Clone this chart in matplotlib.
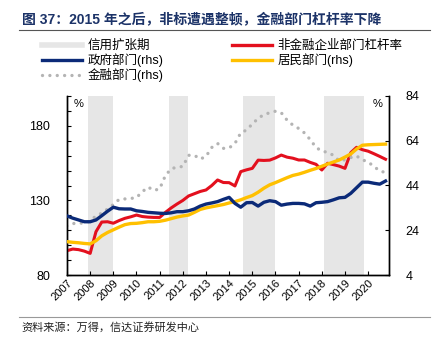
import matplotlib
matplotlib.use("Agg")
import matplotlib.pyplot as plt
from matplotlib.lines import Line2D
import numpy as np

plt.rcParams['font.family'] = ['Liberation Sans', 'Noto Sans CJK SC', 'DejaVu Sans']

years = [str(y) for y in range(2007, 2021)]
quarters = 2007.0 + 0.25 * np.arange(56)

corp = [96.3, 97.4, 97.0, 96.0, 94.5, 109.0, 115.5, 115.7, 114.7, 116.5, 118.0, 119.0,
        120.2, 119.2, 118.8, 118.6, 118.6, 122.0, 125.0, 127.6, 130.0, 133.0, 134.5, 136.0,
        137.0, 140.0, 143.7, 142.0, 141.9, 139.7, 149.3, 150.5, 151.5, 157.0, 156.8, 157.0,
        158.5, 160.4, 159.0, 158.3, 157.1, 157.1, 155.5, 154.2, 150.4, 154.9, 154.0, 153.0,
        151.5, 162.0, 165.6, 164.0, 163.0, 161.3, 159.5, 157.6]

gov = [30.4, 29.4, 28.6, 27.8, 27.8, 28.6, 30.5, 32.5, 34.3, 33.6, 33.5, 33.5,
       32.7, 32.4, 32.0, 31.8, 31.6, 31.5, 31.8, 32.3, 32.3, 32.7, 33.5, 34.8,
       35.7, 36.2, 36.8, 37.8, 38.7, 36.0, 34.3, 36.3, 36.4, 34.8, 36.5, 37.2,
       36.8, 35.2, 35.7, 36.0, 36.0, 35.8, 34.8, 36.3, 36.5, 36.8, 37.6, 38.5,
       38.7, 40.5, 43.0, 45.5, 45.5, 45.0, 44.6, 46.0]

household = [18.9, 18.6, 18.4, 18.1, 17.9, 19.3, 21.5, 23.0, 24.2, 25.4, 26.5, 27.0,
             27.1, 27.4, 27.8, 27.8, 28.0, 28.5, 29.2, 29.9, 30.4, 30.8, 32.0, 33.3,
             34.0, 34.5, 35.0, 35.5, 36.2, 36.8, 37.6, 38.6, 39.5, 41.0, 42.8, 44.3,
             45.3, 46.4, 47.5, 48.5, 49.1, 49.9, 50.8, 51.6, 52.6, 53.6, 54.5, 55.4,
             56.7, 58.1, 60.3, 62.0, 62.2, 62.3, 62.4, 62.5]

financial = [25.9, 27.0, 27.1, 27.3, 28.0, 30.5, 31.6, 33.5, 35.5, 37.8, 38.0, 38.2,
             38.6, 41.2, 43.3, 41.8, 42.5, 48.5, 51.5, 52.2, 52.5, 57.5, 57.5, 55.8,
             57.0, 61.0, 62.8, 60.6, 60.8, 62.8, 67.5, 68.8, 71.5, 74.0, 75.7, 76.5,
             77.2, 76.5, 73.2, 71.0, 69.5, 67.5, 64.5, 61.0, 59.4, 58.8, 57.5, 55.0,
             55.5, 56.5, 57.2, 55.5, 54.5, 52.5, 50.5, 49.8]

expansion_periods = [(2007.92, 2008.97), (2011.42, 2012.24), (2014.6, 2016.0), (2018.1, 2019.83)]

labels_left = ['信用扩张期', '政府部门(rhs)', '金融部门(rhs)']
labels_right = ['非金融企业部门杠杆率', '居民部门(rhs)']

RED = '#e3101e'
BLUE = '#0b2a78'
YELLOW = '#ffc000'
GRAY = '#b4b4b4'
SHADE = '#e6e6e6'
DOTS = (0, (0.01, 2.2))

fig = plt.figure(figsize=(4.35, 3.5), dpi=100)
ax = fig.add_axes([67/435, 1-275/350, (389-67)/435, (275-96)/350])
ax2 = ax.twinx()

for a, b in expansion_periods:
    ax.axvspan(a, b, color=SHADE, lw=0, zorder=0)

ax.plot(quarters, corp, color=RED, lw=2.2, zorder=3, solid_joinstyle='round')
ax2.plot(quarters, financial, color=GRAY, lw=2.4, linestyle=DOTS,
         dash_capstyle='round', zorder=2)
ax2.plot(quarters, household, color=YELLOW, lw=2.4, zorder=3, solid_joinstyle='round')
ax2.plot(quarters, gov, color=BLUE, lw=2.4, zorder=4, solid_joinstyle='round')

ax.set_xlim(2007.0, 2020.9)
ax.set_ylim(80, 200)
ax2.set_ylim(4, 84)
ax.set_yticks(np.arange(80, 201, 10))
ax.set_yticklabels([str(v) if v in (80, 130, 180) else '' for v in range(80, 201, 10)])
ax2.set_yticks([4, 24, 44, 64, 84])
ax2.set_yticklabels(['4', '24', '44', '64', '84'])
ax.set_xticks(np.arange(2007, 2021))
ax.set_xticklabels(years, rotation=45, ha='right', va='top', rotation_mode='anchor')

for a in (ax, ax2):
    a.spines['top'].set_visible(False)
    for s in a.spines.values():
        s.set_linewidth(1.0)
        s.set_color('black')
    a.tick_params(direction='in', length=3, width=0.8, labelsize=9, colors='black')
ax.tick_params(axis='x', labelsize=8, pad=2)
ax.tick_params(axis='y', pad=12)
ax2.tick_params(axis='y', pad=12)
ax.set_zorder(ax2.get_zorder())
ax.patch.set_visible(False)

ax.text(0.02, 0.985, '%', transform=ax.transAxes, fontsize=8, va='top', ha='left')
ax.text(0.98, 0.985, '%', transform=ax.transAxes, fontsize=8, va='top', ha='right')

handles_left = [
    Line2D([], [], color=SHADE, lw=4),
    Line2D([], [], color=BLUE, lw=2.4),
    Line2D([], [], color=GRAY, lw=2.4, linestyle=DOTS, dash_capstyle='round'),
]
handles_right = [
    Line2D([], [], color=RED, lw=2.4),
    Line2D([], [], color=YELLOW, lw=2.4),
]
leg_kw = dict(loc='upper left', frameon=False, fontsize=9, handlelength=3.2,
              handletextpad=0.45, labelspacing=0.1, borderaxespad=0, borderpad=0)
leg1 = fig.legend(handles_left, labels_left, bbox_to_anchor=(42/435, 1-40/350), **leg_kw)
fig.legend(handles_right, labels_right, bbox_to_anchor=(232/435, 1-40/350), **leg_kw)

fig.text(22/435, 1-19.5/350, '图 37：2015 年之后，非标遭遇整顿，金融部门杠杆率下降',
         fontsize=10, fontweight='bold', color='#1c3368', va='center', ha='left')
fig.add_artist(Line2D([19/435, 430/435], [1-29.5/350, 1-29.5/350], color='#555555', lw=0.8))
fig.add_artist(Line2D([19/435, 430/435], [1-317/350, 1-317/350], color='#999999', lw=0.8))
fig.text(21/435, 1-327/350, '资料来源：万得，信达证券研发中心', fontsize=8, style='italic',
         color='#222222', va='center', ha='left')

fig.savefig('out.png', dpi=100)
